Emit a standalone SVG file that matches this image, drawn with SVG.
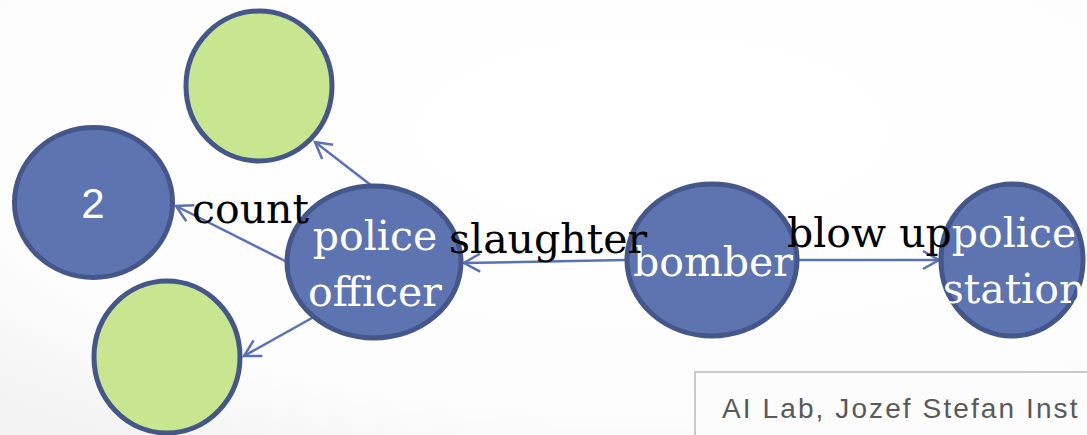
<svg xmlns="http://www.w3.org/2000/svg" width="1087" height="435" viewBox="0 0 1087 435">
  <defs>
    <radialGradient id="bg" cx="0.6" cy="0.3" r="0.85">
      <stop offset="0" stop-color="#ffffff"/>
      <stop offset="0.75" stop-color="#fdfdfd"/>
      <stop offset="1" stop-color="#f3f3f3"/>
    </radialGradient>
    <marker id="arrow" markerUnits="userSpaceOnUse" markerWidth="30" markerHeight="30" viewBox="-20 -15 30 30" refX="0" refY="0" orient="auto">
      <path d="M-16,-9 L0,0 L-16,9" fill="none" stroke="#5b71b6" stroke-width="2.5" stroke-linejoin="miter"/>
    </marker>
    <style>
      .node { fill: #5d74b1; stroke: #44568a; stroke-width: 5; }
      .leaf { fill: #c8e58f; stroke: #44568a; stroke-width: 5; }
      .edge { stroke: #5b71b6; stroke-width: 2.5; fill: none; marker-end: url(#arrow); }
      .ntext { font-family: "DejaVu Serif", "Liberation Serif", serif; font-size: 41px; fill: #ffffff; text-anchor: middle; }
      .elabel { font-family: "DejaVu Serif", "Liberation Serif", serif; font-size: 41px; fill: #000000; }
      .num { font-family: "Liberation Sans", "DejaVu Sans", sans-serif; font-size: 42px; fill: #ffffff; text-anchor: middle; }
      .footer { font-family: "Liberation Sans", "DejaVu Sans", sans-serif; font-size: 28px; fill: #595959; letter-spacing: 2.1px; }
    </style>
  </defs>

  <rect x="0" y="0" width="1087" height="435" fill="url(#bg)"/>

  <!-- connectors -->
  <g id="edges">
    <line class="edge" x1="372" y1="186" x2="315" y2="142"/>
    <line class="edge" x1="287" y1="262" x2="176" y2="206"/>
    <line class="edge" x1="312" y1="318" x2="244" y2="356"/>
    <line class="edge" x1="625" y1="260" x2="464" y2="263"/>
    <line class="edge" x1="799" y1="260" x2="939" y2="260"/>
  </g>

  <!-- nodes -->
  <g id="node-top">
    <ellipse class="leaf" cx="259" cy="86" rx="73" ry="75"/>
  </g>
  <g id="node-two">
    <ellipse class="node" cx="93.5" cy="202.5" rx="79" ry="75"/>
    <text class="num" x="93" y="218">2</text>
  </g>
  <g id="node-bottom">
    <ellipse class="leaf" cx="167" cy="357" rx="73" ry="76"/>
  </g>
  <g id="node-officer">
    <ellipse class="node" cx="374" cy="262" rx="87" ry="76"/>
    <text class="ntext" x="375" y="250">police</text>
    <text class="ntext" x="375" y="306">officer</text>
  </g>
  <g id="node-bomber">
    <ellipse class="node" cx="712" cy="260" rx="85" ry="76"/>
    <text class="ntext" x="713" y="276">bomber</text>
  </g>
  <g id="node-station">
    <ellipse class="node" cx="1012" cy="260" rx="71" ry="76"/>
    <text class="ntext" x="1014" y="247">police</text>
    <text class="ntext" x="1014" y="303">station</text>
  </g>

  <!-- edge labels -->
  <g id="labels">
    <text class="elabel" x="192" y="223">count</text>
    <text class="elabel" x="449" y="253">slaughter</text>
    <text class="elabel" x="787" y="247">blow up</text>
  </g>

  <!-- footer box -->
  <g id="footer">
    <rect x="695" y="372" width="420" height="80" fill="#fcfcfc" stroke="#c9c9c9" stroke-width="2"/>
    <text class="footer" x="722" y="418">AI Lab, Jozef Stefan Inst</text>
  </g>
</svg>
